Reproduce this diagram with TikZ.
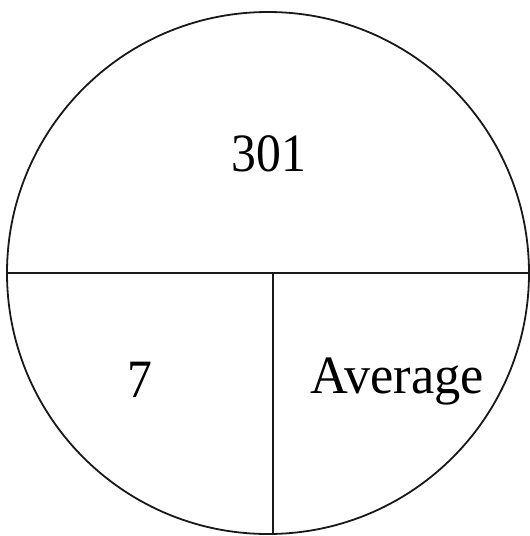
\documentclass[tikz,border=0pt]{standalone}
\usepackage{fontspec}
\setmainfont{Liberation Serif}
\begin{document}
\begin{tikzpicture}[x=1pt,y=-1pt,
  rim/.style={draw=black!90,line width=1.8pt},
  lbl/.style={font=\fontsize{54}{60}\selectfont,inner sep=0pt}]
\useasboundingbox (0,0) rectangle (530,536);
\node[rim,circle,minimum size=522pt,inner sep=0pt] (c) at (268,273) {};
\coordinate (m) at (273,273);
\coordinate (b) at (273,533.9);
\draw[rim] (c.west) -- (c.east);
\draw[rim] (m) -- (b);
\node[lbl] (t) at (269,154) {\scalebox{0.92}[1]{301}};
\node[lbl] (s) at (140,380) {\scalebox{0.92}[1]{7}};
\node[lbl,anchor=base] (a) at (397,393) {\scalebox{0.97}[1]{Average}};
\end{tikzpicture}
\end{document}
